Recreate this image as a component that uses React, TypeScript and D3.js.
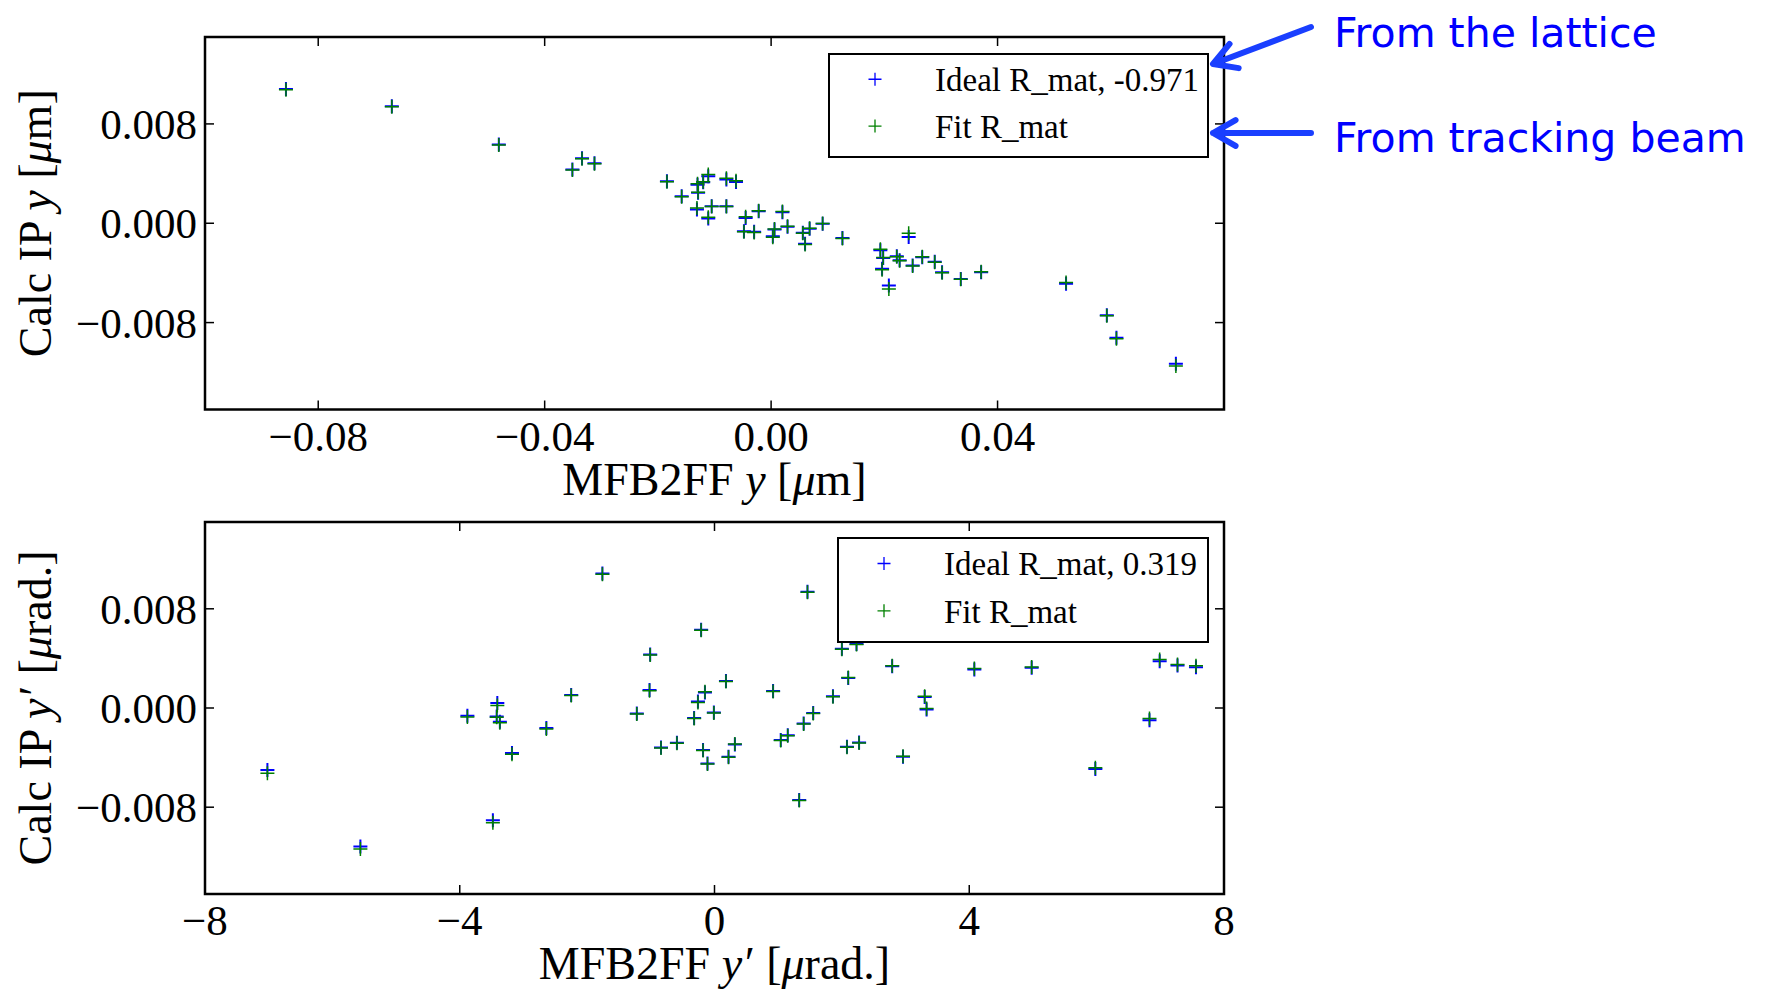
import React from 'react';
import * as d3 from 'd3';

// ---------- data ----------
const topX = [-0.0857, -0.0670, -0.0481, -0.0351, -0.0334, -0.0312, -0.0184, -0.0158, -0.0130, -0.0120,
  -0.0129, -0.0131, -0.0111, -0.0105, -0.0111, -0.0079, -0.0079, -0.0062, -0.0045, -0.0048,
  -0.0030, -0.0022, 0.0003, 0.0006, 0.0020, 0.0029, 0.0056, 0.0060, 0.0068, 0.0091,
  0.0126, 0.0193, 0.0198, 0.0196, 0.0208, 0.0222, 0.0227, 0.0243, 0.0250, 0.0267,
  0.0289, 0.0302, 0.0335, 0.0371, 0.0521, 0.0593, 0.0610, 0.0715];
const topIdealY = [0.01082, 0.00942, 0.00634, 0.00432, 0.00523, 0.00483, 0.00338, 0.00217, 0.00310, 0.00330,
  0.00245, 0.00110, 0.00379, 0.00137, 0.00038, 0.00137, 0.00352, 0.00333, 0.00043, -0.00064,
  -0.00069, 0.00097, -0.00105, -0.00051, 0.00089, -0.00029, -0.00077, -0.00166, -0.00045, -0.00005,
  -0.00118, -0.00217, -0.00279, -0.00367, -0.00502, -0.00266, -0.00298, -0.00110, -0.00341, -0.00274,
  -0.00311, -0.00394, -0.00448, -0.00394, -0.00488, -0.00741, -0.00923, -0.01132];
const topFitY = [0.01076, 0.00938, 0.00630, 0.00428, 0.00519, 0.00479, 0.00334, 0.00214, 0.00318, 0.00334,
  0.00250, 0.00122, 0.00392, 0.00134, 0.00048, 0.00134, 0.00362, 0.00343, 0.00052, -0.00068,
  -0.00075, 0.00100, -0.00112, -0.00046, 0.00095, -0.00025, -0.00081, -0.00172, -0.00040, -0.00002,
  -0.00122, -0.00210, -0.00275, -0.00375, -0.00530, -0.00270, -0.00302, -0.00080, -0.00345, -0.00270,
  -0.00315, -0.00398, -0.00452, -0.00390, -0.00478, -0.00745, -0.00930, -0.01150];

const botX = [-7.02, -5.56, -3.88, -3.41, -3.42, -3.37, -3.18, -3.48, -2.64, -2.25,
  -1.76, -1.01, -1.02, -1.22, -0.84, -0.59, -0.21, -0.15, -0.26, -0.32,
  -0.01, -0.18, -0.11, 0.18, 0.22, 0.32, 0.92, 1.04, 1.15, 1.33,
  1.40, 1.55, 1.46, 1.86, 2.10, 2.00, 2.23, 2.08, 2.27, 2.79,
  2.96, 3.30, 3.33, 4.08, 4.98, 5.98, 6.83, 6.99, 7.27, 7.56];
const botIdealY = [-0.00500, -0.01116, -0.00062, 0.00040, -0.00068, -0.00110, -0.00362, -0.00905, -0.00162, 0.00105,
  0.01085, 0.00432, 0.00145, -0.00045, -0.00318, -0.00281, 0.00632, 0.00125, 0.00052, -0.00080,
  -0.00037, -0.00338, -0.00447, 0.00217, -0.00394, -0.00294, 0.00137, -0.00259, -0.00219, -0.00741,
  -0.00125, -0.00040, 0.00937, 0.00094, 0.00241, 0.00477, 0.00517, -0.00313, -0.00278, 0.00337,
  -0.00394, 0.00088, -0.00013, 0.00311, 0.00324, -0.00492, -0.00099, 0.00378, 0.00343, 0.00329];
const botFitY = [-0.00527, -0.01138, -0.00072, 0.00020, -0.00075, -0.00118, -0.00372, -0.00925, -0.00170, 0.00100,
  0.01078, 0.00428, 0.00140, -0.00049, -0.00322, -0.00285, 0.00628, 0.00132, 0.00045, -0.00084,
  -0.00041, -0.00342, -0.00451, 0.00213, -0.00398, -0.00290, 0.00133, -0.00263, -0.00223, -0.00745,
  -0.00129, -0.00044, 0.00933, 0.00090, 0.00245, 0.00473, 0.00513, -0.00317, -0.00282, 0.00340,
  -0.00390, 0.00095, -0.00005, 0.00318, 0.00330, -0.00482, -0.00085, 0.00392, 0.00350, 0.00340];

const topXDomain = [-0.1, 0.08];
const botXDomain = [-8, 8];
const yDomain = [-0.015, 0.015];
const topXTicks = [-0.08, -0.04, 0, 0.04];
const topXTickLabels = ['\u22120.08', '\u22120.04', '0.00', '0.04'];
const botXTicks = [-8, -4, 0, 4, 8];
const botXTickLabels = ['\u22128', '\u22124', '0', '4', '8'];
const yTicks = [-0.008, 0, 0.008];
const yTickLabels = ['\u22120.008', '0.000', '0.008'];
const topLegendLabels = ['Ideal R_mat, -0.971', 'Fit R_mat'];
const botLegendLabels = ['Ideal R_mat, 0.319', 'Fit R_mat'];
const annotations = ['From the lattice', 'From tracking beam'];

const SERIF = '"Liberation Serif", "Times New Roman", serif';
const BLUE = '#0000ff';
const GREEN = '#008000';

type Box = { left: number; right: number; top: number; bottom: number };

function Plus({ x, y, color, h = 7, w = 1.6 }: { x: number; y: number; color: string; h?: number; w?: number }) {
  return (
    <path d={`M${x - h},${y}H${x + h}M${x},${y - h}V${y + h}`} stroke={color} strokeWidth={w} fill="none" />
  );
}

function Panel(props: {
  box: Box; xDomain: number[]; xs: number[]; ideal: number[]; fit: number[];
  xTicks: number[]; xTickLabels: string[]; legendBox: Box; legendLabels: string[];
  xLabel: React.ReactNode; yLabel: React.ReactNode;
}) {
  const { box, xDomain, xs, ideal, fit, xTicks, xTickLabels, legendBox, legendLabels, xLabel, yLabel } = props;
  const x = d3.scaleLinear().domain(xDomain).range([box.left, box.right]);
  const y = d3.scaleLinear().domain(yDomain).range([box.bottom, box.top]);
  const tl = 9;
  const cx = (box.left + box.right) / 2;
  const cy = (box.top + box.bottom) / 2;
  const lh = (legendBox.bottom - legendBox.top);
  const row1 = legendBox.top + lh * 0.245;
  const row2 = legendBox.top + lh * 0.70;
  const mx = legendBox.left + 46;
  const tx = legendBox.left + 106;
  return (
    <g>
      <g>
        {xs.map((v, i) => <Plus key={'b' + i} x={x(v)} y={y(ideal[i])} color={BLUE} w={2} />)}
        {xs.map((v, i) => <Plus key={'g' + i} x={x(v)} y={y(fit[i])} color={GREEN} w={1.5} />)}
      </g>
      {xTicks.map((t, i) => (
        <g key={'xt' + i}>
          <line x1={x(t)} x2={x(t)} y1={box.bottom} y2={box.bottom - tl} stroke="#000" strokeWidth={1.5} />
          <line x1={x(t)} x2={x(t)} y1={box.top} y2={box.top + tl} stroke="#000" strokeWidth={1.5} />
          <text x={x(t)} y={box.bottom + 41} textAnchor="middle" fontFamily={SERIF} fontSize={43}>{xTickLabels[i]}</text>
        </g>
      ))}
      {yTicks.map((t, i) => (
        <g key={'yt' + i}>
          <line x1={box.left} x2={box.left + tl} y1={y(t)} y2={y(t)} stroke="#000" strokeWidth={1.5} />
          <line x1={box.right} x2={box.right - tl} y1={y(t)} y2={y(t)} stroke="#000" strokeWidth={1.5} />
          <text x={box.left - 8} y={y(t) + 15} textAnchor="end" fontFamily={SERIF} fontSize={43}>{yTickLabels[i]}</text>
        </g>
      ))}
      <rect x={box.left} y={box.top} width={box.right - box.left} height={box.bottom - box.top}
        fill="none" stroke="#000" strokeWidth={2.5} />
      <rect x={legendBox.left} y={legendBox.top} width={legendBox.right - legendBox.left}
        height={legendBox.bottom - legendBox.top} fill="#fff" stroke="#000" strokeWidth={2} />
      <Plus x={mx} y={row1} color={BLUE} h={6.5} w={1.3} />
      <Plus x={mx} y={row2} color={GREEN} h={6.5} w={1.3} />
      <text x={tx} y={row1 + 12} fontFamily={SERIF} fontSize={33}>{legendLabels[0]}</text>
      <text x={tx} y={row2 + 12} fontFamily={SERIF} fontSize={33}>{legendLabels[1]}</text>
      <text x={cx} y={box.bottom + 85} textAnchor="middle" fontFamily={SERIF} fontSize={46}>{xLabel}</text>
      <text transform={`translate(51,${cy}) rotate(-90)`} textAnchor="middle" fontFamily={SERIF} fontSize={46}>{yLabel}</text>
    </g>
  );
}

function Arrow({ x1, y1, x2, y2 }: { x1: number; y1: number; x2: number; y2: number }) {
  const ang = Math.atan2(y2 - y1, x2 - x1);
  const L = 26, a = 0.52;
  const w1x = x2 - L * Math.cos(ang - a), w1y = y2 - L * Math.sin(ang - a);
  const w2x = x2 - L * Math.cos(ang + a), w2y = y2 - L * Math.sin(ang + a);
  return (
    <path d={`M${x1},${y1}L${x2},${y2}M${w1x},${w1y}L${x2},${y2}L${w2x},${w2y}`}
      stroke="#1a3fff" strokeWidth={6} fill="none" strokeLinecap="round" strokeLinejoin="round" />
  );
}

export default function App() {
  const topBox: Box = { left: 205, right: 1224, top: 37, bottom: 409.5 };
  const botBox: Box = { left: 205, right: 1224, top: 522, bottom: 894 };
  return (
    <svg width={1770} height={993} style={{ position: 'absolute', left: 0, top: 0, background: '#fff' }}>
      <rect width={1770} height={993} fill="#fff" />
      <Panel box={topBox} xDomain={topXDomain} xs={topX} ideal={topIdealY} fit={topFitY}
        xTicks={topXTicks} xTickLabels={topXTickLabels}
        legendBox={{ left: 829, right: 1208, top: 54, bottom: 157 }} legendLabels={topLegendLabels}
        xLabel={<>MFB2FF <tspan fontStyle="italic">y</tspan> [<tspan fontStyle="italic">μ</tspan>m]</>}
        yLabel={<>Calc IP <tspan fontStyle="italic">y</tspan> [<tspan fontStyle="italic">μ</tspan>m]</>} />
      <Panel box={botBox} xDomain={botXDomain} xs={botX} ideal={botIdealY} fit={botFitY}
        xTicks={botXTicks} xTickLabels={botXTickLabels}
        legendBox={{ left: 838, right: 1208, top: 538, bottom: 642 }} legendLabels={botLegendLabels}
        xLabel={<>MFB2FF <tspan fontStyle="italic">y′</tspan><tspan dx={14}>[</tspan><tspan fontStyle="italic">μ</tspan>rad.]</>}
        yLabel={<>Calc IP <tspan fontStyle="italic">y′</tspan><tspan dx={14}>[</tspan><tspan fontStyle="italic">μ</tspan>rad.]</>} />
      <Arrow x1={1311} y1={27} x2={1213} y2={64} />
      <Arrow x1={1311} y1={133} x2={1213} y2={133} />
      <text x={1334} y={47} fontFamily='"DejaVu Sans", Verdana, sans-serif' fontSize={41} fill="#0000ff">{annotations[0]}</text>
      <text x={1334} y={152} fontFamily='"DejaVu Sans", Verdana, sans-serif' fontSize={41} fill="#0000ff">{annotations[1]}</text>
    </svg>
  );
}
